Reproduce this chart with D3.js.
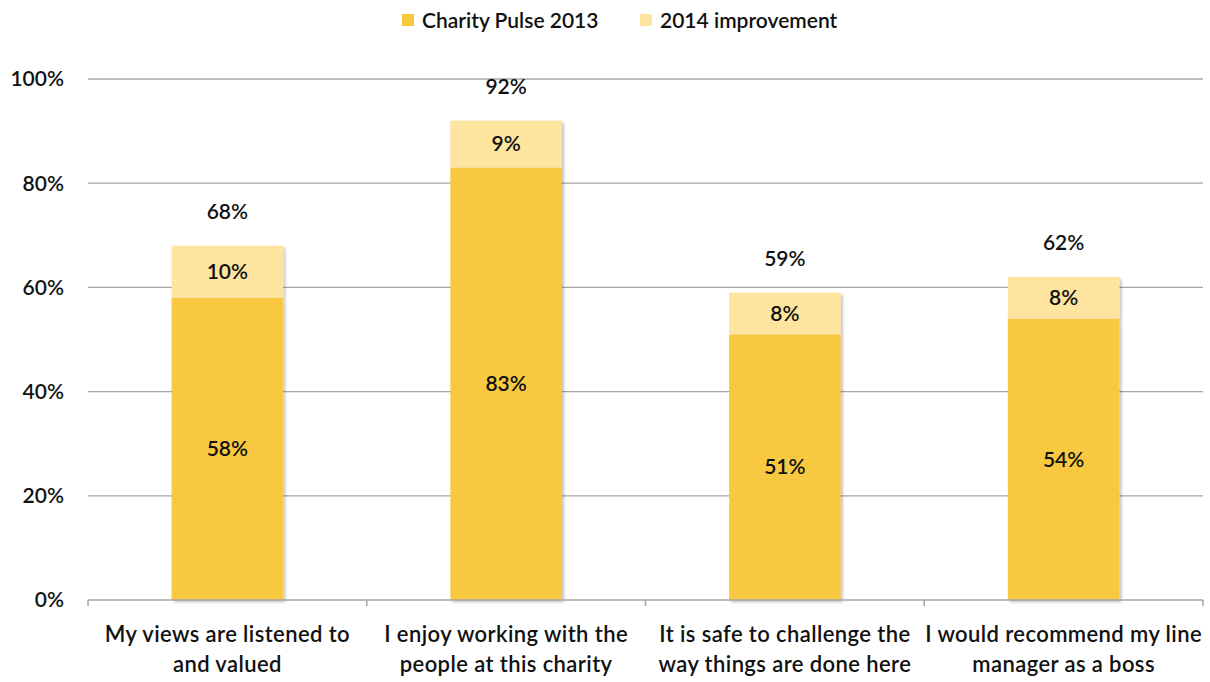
<!DOCTYPE html>
<html>
<head>
<meta charset="utf-8">
<script src="https://cdn.jsdelivr.net/npm/d3@7"></script>
<style>
  html, body { margin: 0; padding: 0; background: #fff; }
  svg text { font-family: Lato, "Open Sans", sans-serif; fill: #111; font-weight: 600; }
</style>
</head>
<body>
<svg id="chart" width="1210" height="682"></svg>
<script>
// Survey statements (two-line labels)
const categories = [
  ["My views are listened to", "and valued"],
  ["I enjoy working with the", "people at this charity"],
  ["It is safe to challenge the", "way things are done here"],
  ["I would recommend my line", "manager as a boss"]
];
const pulse2013 = [58, 83, 51, 54];
const improvement2014 = [10, 9, 8, 8];
const totals2014 = [68, 92, 59, 62];
const yTicks = [0, 20, 40, 60, 80, 100];
const seriesNames = ["Charity Pulse 2013", "2014 improvement"];
const colors = ["#F8C93F", "#FDE49F"];

const svg = d3.select("#chart");
const margin = { left: 88, right: 7, top: 79, bottom: 82 };
const W = 1210, H = 682;
const FS = 21;

const x = d3.scaleBand()
  .domain(d3.range(categories.length))
  .range([margin.left, W - margin.right])
  .paddingInner(0.6)
  .paddingOuter(0.3);
const band = d3.scaleBand()
  .domain(d3.range(categories.length))
  .range([margin.left, W - margin.right]);
const y = d3.scaleLinear().domain([0, 100]).range([H - margin.bottom, margin.top]);

// soft shadow under the bars
const defs = svg.append("defs");
const f = defs.append("filter").attr("id", "shadow")
  .attr("x", "-10%").attr("y", "-10%").attr("width", "130%").attr("height", "130%");
f.append("feDropShadow").attr("dx", 2).attr("dy", 2).attr("stdDeviation", 1.5)
  .attr("flood-color", "#000").attr("flood-opacity", 0.25);

// gridlines
svg.append("g")
  .selectAll("line")
  .data(yTicks.slice(1))
  .join("line")
  .attr("x1", margin.left).attr("x2", W - margin.right)
  .attr("y1", d => y(d)).attr("y2", d => y(d))
  .attr("stroke", "#A6A6A6").attr("stroke-width", 1.3);

// y axis labels
svg.append("g")
  .selectAll("text")
  .data(yTicks)
  .join("text")
  .attr("x", 64).attr("y", d => y(d))
  .attr("dy", "0.35em")
  .attr("text-anchor", "end")
  .attr("font-size", FS)
  .text(d => d + "%");

// stacked bars (one shadowed group so segments don't shade each other)
const stackData = categories.map((c, i) => ({ i, a: pulse2013[i], b: improvement2014[i] }));
const stacked = d3.stack().keys(["a", "b"])(stackData);

const barsG = svg.append("g").attr("filter", "url(#shadow)");
stacked.forEach((layer, k) => {
  barsG.append("g")
    .attr("fill", colors[k])
    .selectAll("rect")
    .data(layer)
    .join("rect")
    .attr("x", d => x(d.data.i))
    .attr("width", x.bandwidth())
    .attr("y", d => y(d[1]))
    .attr("height", d => y(d[0]) - y(d[1]));
});

// x axis baseline and ticks
const axisY = y(0);
svg.append("line")
  .attr("x1", margin.left).attr("x2", W - margin.right)
  .attr("y1", axisY).attr("y2", axisY)
  .attr("stroke", "#A6A6A6").attr("stroke-width", 1.5);
const tickPos = d3.range(categories.length).map(i => band(i)).concat([W - margin.right]);
svg.append("g")
  .selectAll("line")
  .data(tickPos)
  .join("line")
  .attr("x1", d => d).attr("x2", d => d)
  .attr("y1", axisY).attr("y2", axisY + 6)
  .attr("stroke", "#A6A6A6").attr("stroke-width", 1.5);

// segment value labels
stacked.forEach((layer, k) => {
  svg.append("g")
    .selectAll("text")
    .data(layer)
    .join("text")
    .attr("x", d => x(d.data.i) + x.bandwidth() / 2)
    .attr("y", d => (y(d[0]) + y(d[1])) / 2)
    .attr("dy", "0.35em")
    .attr("text-anchor", "middle")
    .attr("font-size", FS)
    .text(d => (d[1] - d[0]) + "%");
});

// totals above bars
svg.append("g")
  .selectAll("text")
  .data(totals2014)
  .join("text")
  .attr("x", (d, i) => x(i) + x.bandwidth() / 2)
  .attr("y", d => y(d) - 34)
  .attr("dy", "0.35em")
  .attr("text-anchor", "middle")
  .attr("font-size", FS)
  .text(d => d + "%");

// category labels
const catG = svg.append("g")
  .selectAll("text")
  .data(categories)
  .join("text")
  .attr("text-anchor", "middle")
  .attr("font-size", 22)
  .attr("letter-spacing", 0.4)
  .attr("x", (d, i) => band(i) + band.bandwidth() / 2);
catG.selectAll("tspan")
  .data(d => d)
  .join("tspan")
  .attr("x", function () { return d3.select(this.parentNode).attr("x"); })
  .attr("y", (d, j) => 642 + j * 30)
  .text(d => d);

// legend
const legend = svg.append("g");
const legendX = [402, 640];
seriesNames.forEach((name, k) => {
  legend.append("rect")
    .attr("x", legendX[k]).attr("y", 14)
    .attr("width", 12).attr("height", 12)
    .attr("fill", colors[k]);
  legend.append("text")
    .attr("x", legendX[k] + 20).attr("y", 21)
    .attr("dy", "0.35em")
    .attr("font-size", FS)
    .text(name);
});
</script>
</body>
</html>
